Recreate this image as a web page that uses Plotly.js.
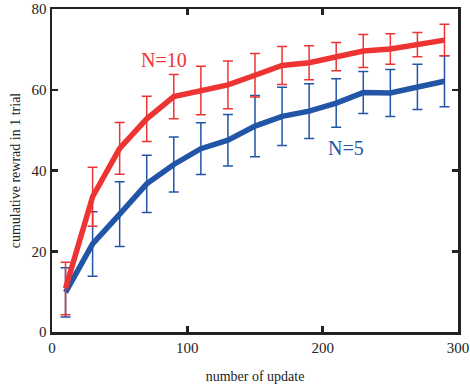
<!DOCTYPE html>
<html>
<head>
<meta charset="utf-8">
<script src="https://cdn.plot.ly/plotly-3.0.1.min.js"></script>
<style>
  html, body { margin: 0; padding: 0; background: #fff; }
  #chart { width: 470px; height: 384px; }
</style>
</head>
<body>
<div id="chart"></div>
<script>
const updates = [10, 30, 50, 70, 90, 110, 130, 150, 170, 190, 210, 230, 250, 270, 290];

const rewardN10 = [10.8, 33.5, 45.5, 52.8, 58.3, 59.8, 61.2, 63.6, 66.0, 66.7, 68.2, 69.6, 70.1, 71.2, 72.3];
const errN10 = [6.5, 7.3, 6.4, 5.6, 5.5, 6.0, 5.9, 5.4, 4.7, 4.2, 3.5, 4.1, 3.8, 3.0, 3.9];

const rewardN5 = [9.8, 21.8, 29.2, 36.7, 41.5, 45.4, 47.5, 51.0, 53.4, 54.7, 56.7, 59.3, 59.2, 60.7, 62.1];
const errN5 = [6.1, 8.0, 8.0, 7.1, 6.8, 6.4, 6.4, 7.6, 7.2, 6.8, 6.0, 5.2, 5.8, 5.6, 6.3];

const red = '#ee3333';
const blue = '#2255a6';
const serif = 'Liberation Serif, Times New Roman, serif';

function series(y, err, color) {
  return {
    x: updates,
    y: y,
    type: 'scatter',
    mode: 'lines',
    line: { color: color, width: 5.5 },
    error_y: { type: 'data', array: err, visible: true, color: color, thickness: 1.5, width: 5 },
    showlegend: false,
    hoverinfo: 'skip'
  };
}

const axisBase = {
  showline: true,
  linecolor: '#222',
  linewidth: 2.5,
  mirror: 'ticks',
  ticks: 'inside',
  ticklen: 6,
  tickwidth: 2.5,
  tickcolor: '#222',
  showgrid: false,
  zeroline: false,
  tickfont: { family: serif, size: 15, color: '#222' }
};

const layout = {
  width: 470,
  height: 384,
  paper_bgcolor: '#fff',
  plot_bgcolor: '#fff',
  font: { family: serif },
  margin: { l: 52, r: 12, t: 9, b: 52 },
  xaxis: {
    ...axisBase,
    range: [0, 300],
    tickvals: [0, 100, 200, 300],
    title: { text: 'number of update', font: { family: serif, size: 14, color: '#222' }, standoff: 18 }
  },
  yaxis: {
    ...axisBase,
    range: [0, 80],
    tickvals: [0, 20, 40, 60, 80],
    title: { text: 'cumulative rewrad in 1 trial', font: { family: serif, size: 14, color: '#222' }, standoff: 8 }
  },
  annotations: [
    { x: 83, y: 67.3, text: 'N=10', showarrow: false, font: { family: serif, size: 20, color: red } },
    { x: 217, y: 45.5, text: 'N=5', showarrow: false, font: { family: serif, size: 20, color: blue } }
  ]
};

Plotly.newPlot('chart', [series(rewardN5, errN5, blue), series(rewardN10, errN10, red)], layout, { displayModeBar: false, staticPlot: true });
</script>
</body>
</html>
